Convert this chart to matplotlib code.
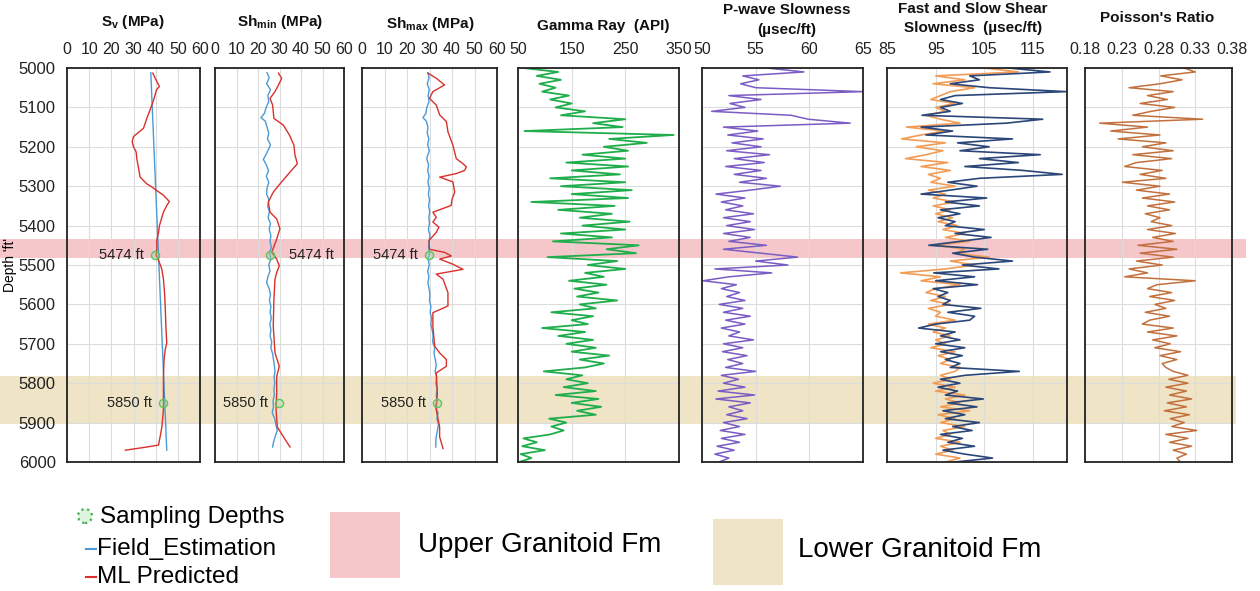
import numpy as np
import matplotlib
matplotlib.use("Agg")
import matplotlib.pyplot as plt
from matplotlib.lines import Line2D
from matplotlib.patches import Rectangle, Ellipse

plt.rcParams['font.family'] = ['Liberation Sans', 'DejaVu Sans']
plt.rcParams['mathtext.fontset'] = 'custom'
plt.rcParams['mathtext.rm'] = 'Liberation Sans'
plt.rcParams['mathtext.bf'] = 'Liberation Sans:bold'

# ---------------- data ----------------
# stress tracks (depth ft, MPa)
sv_field_depth = [5012, 5970]
sv_field = [37.8, 45.0]
sv_ml_depth = [5013, 5026, 5047, 5055, 5077, 5094, 5128, 5153, 5174, 5187, 5200, 5213, 5230,
               5255, 5277, 5294, 5302, 5311, 5323, 5339, 5349, 5366, 5383, 5400, 5417, 5438,
               5460, 5475, 5494, 5511, 5536, 5570, 5604, 5655, 5698, 5715, 5740, 5783, 5825,
               5868, 5911, 5936, 5957, 5962, 5970]
sv_ml = [38.7, 39.8, 41.7, 40.4, 39.3, 38.3, 36.0, 34.5, 30.0, 29.4, 30.0, 31.2, 31.5,
         32.3, 33.0, 36.0, 38.3, 40.5, 43.5, 46.2, 45.0, 43.5, 42.6, 41.7, 41.3, 40.5,
         40.5, 40.2, 41.7, 42.8, 43.5, 44.0, 44.3, 44.6, 45.0, 44.3, 43.8, 43.5, 43.5,
         43.5, 42.8, 42.0, 41.3, 36.0, 26.3]

shmin_field_depth = [5012, 5025, 5040, 5055, 5070, 5085, 5100, 5115, 5126, 5135, 5150, 5165,
                     5180, 5195, 5210, 5225, 5232, 5245, 5260, 5275, 5290, 5305, 5320, 5335,
                     5350, 5365, 5380, 5395, 5410, 5425, 5440, 5455, 5470, 5485, 5500, 5515,
                     5530, 5545, 5560, 5575, 5590, 5605, 5620, 5635, 5650, 5665, 5680, 5695,
                     5710, 5725, 5740, 5755, 5770, 5785, 5800, 5815, 5830, 5845, 5860, 5875,
                     5890, 5905, 5920, 5935, 5950, 5962]
shmin_field = [24.2, 25.2, 24.0, 25.8, 24.6, 25.0, 23.8, 23.0, 21.4, 23.4, 24.2, 25.0,
               24.4, 25.8, 24.6, 23.2, 22.5, 23.8, 24.9, 23.9, 25.0, 24.2, 24.0, 25.1,
               24.5, 25.3, 24.7, 25.8, 25.2, 26.0, 25.6, 26.2, 25.4, 26.0, 25.0, 25.6,
               24.6, 24.0, 25.2, 25.8, 25.3, 26.0, 25.6, 26.2, 25.5, 26.0, 25.6, 26.4,
               26.0, 26.8, 27.2, 27.6, 27.9, 27.5, 27.8, 27.4, 27.6, 27.0, 27.2, 26.6,
               27.8, 28.3, 29.0, 28.0, 27.2, 26.8]
shmin_ml_depth = [5013, 5026, 5039, 5060, 5077, 5094, 5128, 5145, 5170, 5196, 5221, 5243,
                  5264, 5289, 5315, 5340, 5366, 5383, 5408, 5434, 5468, 5485, 5502, 5519,
                  5536, 5587, 5655, 5723, 5757, 5783, 5825, 5868, 5911, 5936, 5962]
shmin_ml = [29.5, 31.0, 29.9, 27.9, 25.6, 26.8, 27.4, 31.8, 34.6, 36.7, 37.2, 38.3,
            34.9, 31.0, 27.1, 24.8, 25.6, 28.7, 30.2, 28.7, 26.4, 28.7, 29.9, 28.7,
            27.9, 27.4, 27.1, 27.9, 29.9, 28.7, 28.7, 28.4, 29.0, 31.8, 34.9]

shmax_field_depth = shmin_field_depth
shmax_field = [29.3, 29.8, 29.0, 29.9, 29.4, 29.8, 28.8, 28.4, 27.1, 28.6, 29.3, 29.0,
               29.7, 29.2, 29.9, 29.0, 28.8, 29.6, 29.2, 29.8, 29.3, 29.9, 29.5, 30.0,
               29.6, 30.1, 29.7, 30.0, 29.5, 30.2, 29.8, 29.6, 30.0, 29.4, 29.9, 29.2,
               29.7, 29.3, 29.8, 30.2, 30.0, 30.6, 30.3, 30.9, 30.6, 31.2, 31.6, 31.4,
               32.3, 32.0, 32.6, 33.0, 32.5, 33.2, 32.8, 33.4, 33.0, 33.3, 32.6, 33.8,
               33.3, 34.0, 33.5, 33.0, 32.8, 32.8]
shmax_ml_depth = [5013, 5026, 5043, 5060, 5077, 5094, 5119, 5136, 5162, 5196, 5230, 5243,
                  5251, 5260, 5268, 5277, 5289, 5315, 5332, 5349, 5366, 5379, 5391, 5404,
                  5417, 5438, 5460, 5468, 5477, 5485, 5498, 5511, 5523, 5536, 5570, 5604,
                  5621, 5655, 5706, 5723, 5740, 5757, 5774, 5825, 5868, 5911, 5936, 5966]
shmax_ml = [29.3, 33.0, 36.7, 31.5, 30.0, 33.0, 34.5, 37.5, 38.2, 40.4, 41.9, 44.9,
            46.4, 45.6, 41.9, 34.5, 40.4, 41.2, 40.1, 39.6, 31.5, 33.0, 31.5, 34.2,
            33.0, 29.8, 30.0, 36.7, 39.7, 34.5, 40.4, 44.9, 33.0, 36.0, 38.2, 38.2,
            31.5, 31.5, 32.3, 34.5, 37.5, 37.5, 33.0, 33.5, 33.0, 34.5, 34.5, 36.0]

sample_depths = [5474, 5850]
sv_samples = [39.8, 43.2]
shmin_samples = [25.6, 29.8]
shmax_samples = [29.8, 33.3]

# well logs, one reading every 10 ft from 5000 to 6000 ft
log_depth = np.arange(5000, 6001, 10)
gamma_ray = [60, 125, 85, 130, 90, 120, 95, 145, 110, 150,
             120, 175, 130, 250, 190, 245, 62, 340, 220, 290,
             210, 255, 170, 250, 140, 255, 150, 240, 110, 250,
             130, 262, 150, 255, 75, 230, 125, 225, 165, 258,
             170, 250, 130, 225, 115, 275, 215, 270, 105, 235,
             180, 250, 175, 210, 145, 215, 155, 200, 160, 235,
             165, 195, 112, 190, 150, 180, 95, 175, 125, 190,
             140, 195, 150, 220, 165, 210, 175, 98, 170, 140,
             180, 135, 195, 120, 200, 150, 205, 160, 195, 108,
             140, 112, 135, 110, 60, 85, 58, 100, 55, 75, 52]
p_slowness = [56.0, 59.5, 53.8, 55.3, 53.6, 55.0, 65.0, 52.5, 55.5, 52.6,
              54.0, 50.9, 58.3, 59.9, 63.8, 52.0, 55.2, 52.4, 55.7, 52.8,
              55.5, 52.3, 56.3, 53.0, 55.8, 52.2, 55.5, 53.0, 56.0, 53.5,
              57.3, 54.5, 51.3, 54.0, 51.8, 53.8, 52.2, 54.8, 52.0, 54.5,
              52.3, 54.9, 52.0, 54.5, 52.5, 56.0, 52.0, 55.5, 58.9, 55.0,
              58.0, 51.2, 56.5, 52.5, 50.1, 53.2, 51.8, 53.5, 52.3, 54.0,
              51.6, 53.8, 52.0, 54.5, 52.2, 54.0, 51.8, 53.5, 52.5, 54.8,
              52.0, 53.8, 51.9, 54.2, 52.4, 53.8, 52.2, 55.0, 51.8, 53.4,
              52.0, 54.0, 51.5, 54.9, 51.3, 54.5, 52.5, 53.8, 52.3, 54.2,
              52.0, 53.5, 51.7, 54.0, 51.8, 53.5, 51.4, 53.0, 51.2, 52.5, 51.6]
fast_shear = [110, 118.5, 102, 104, 98, 106, 121.8, 99, 96, 100.5,
              96, 98, 92.2, 117, 109.5, 92, 98.5, 93, 110.8, 99.5,
              106, 100, 116.5, 104, 112, 101, 113, 121, 104, 97.5,
              103.5, 98, 92, 105.5, 97, 104, 96, 100, 95.5, 99,
              97, 105, 99, 106.4, 100, 93.6, 105.7, 98.5, 103, 110.8,
              100.5, 108, 94.6, 103, 95, 103.6, 94.5, 97.5, 95.5, 98,
              96.5, 104.3, 97.5, 103, 102, 95, 91.5, 99, 96, 100,
              95, 101, 96, 100.5, 97, 100, 98, 112.2, 101, 96,
              100, 95.5, 99.5, 97, 104.8, 97.5, 103.5, 96.5, 101, 97,
              104, 98.5, 102.5, 96, 100.5, 97.5, 103, 96.5, 101, 106.7, 99]
slow_shear = [105, 112, 95, 101, 94.5, 103, 98, 96, 94, 99,
              95, 97, 93, 96, 100, 89, 97, 92, 88, 97,
              91, 96.5, 93, 88.8, 97.5, 92, 98, 93.5, 96, 94,
              99, 93.5, 97, 94.5, 99, 94.5, 98, 95, 98.5, 95.5,
              99.5, 96.5, 101, 97, 102, 95, 101, 99, 106, 98,
              103, 97, 87.8, 96, 92, 100, 95, 93, 97, 94,
              98, 93.5, 96, 95, 99, 93.5, 97, 94.5, 98, 95,
              97, 94, 99, 95.5, 98, 96, 100, 99, 96, 98,
              94.5, 99, 95, 101, 97, 100, 96, 102, 95.5, 99,
              96, 101, 96.5, 98, 95, 100, 96, 98.5, 95, 100, 97]
poisson = [0.315, 0.330, 0.283, 0.312, 0.282, 0.240, 0.300, 0.265, 0.292, 0.255,
           0.302, 0.270, 0.245, 0.340, 0.200, 0.265, 0.215, 0.282, 0.225, 0.290,
           0.258, 0.300, 0.245, 0.298, 0.250, 0.234, 0.285, 0.255, 0.290, 0.231,
           0.282, 0.250, 0.295, 0.258, 0.302, 0.265, 0.295, 0.262, 0.282, 0.270,
           0.298, 0.265, 0.303, 0.272, 0.300, 0.252, 0.305, 0.255, 0.300, 0.250,
           0.285, 0.240, 0.265, 0.234, 0.330, 0.278, 0.265, 0.298, 0.268, 0.302,
           0.275, 0.290, 0.262, 0.295, 0.268, 0.258, 0.300, 0.265, 0.305, 0.272,
           0.296, 0.275, 0.310, 0.282, 0.305, 0.285, 0.290, 0.300, 0.320, 0.294,
           0.320, 0.290, 0.318, 0.295, 0.325, 0.292, 0.318, 0.288, 0.322, 0.296,
           0.315, 0.298, 0.332, 0.290, 0.320, 0.295, 0.325, 0.300, 0.318, 0.305, 0.310]

# formation zones (top, base) in ft
upper_fm = (5435, 5483)
lower_fm = (5781, 5903)

depth_ticks = list(range(5000, 6001, 100))

# ---------------- figure ----------------
W, H = 1260, 591
fig = plt.figure(figsize=(W / 100, H / 100), dpi=100)


def box(x0, x1, ytop, ybot):
    return [x0 / W, 1 - ybot / H, (x1 - x0) / W, (ybot - ytop) / H]


TOP, BOT = 68, 462
pink = '#f5c7cb'
tan = '#efe4c6'

# formation bands run behind all tracks
bg = fig.add_axes(box(0, 1246, TOP, BOT), zorder=0)
bg.set_ylim(6000, 5000)
bg.axhspan(*upper_fm, xmin=0, xmax=1.0, color=pink, lw=0)
bg.axhspan(*lower_fm, xmin=0, xmax=1236 / 1246, color=tan, lw=0)
bg.axis('off')

tracks = [
    # x0, x1, xlim, ticks, ticklabels
    (67, 200, (0, 60), range(0, 61, 10), None),
    (215, 344, (0, 60), range(0, 61, 10), None),
    (362, 497, (0, 60), range(0, 61, 10), None),
    (518, 679, (50, 350), [50, 150, 250, 350], None),
    (702, 863, (50, 65), [50, 55, 60, 65], None),
    (887, 1067, (85, 122), [85, 95, 105, 115], None),
    (1085, 1232, (0.18, 0.38), [0.18, 0.23, 0.28, 0.33, 0.38], ['0.18', '0.23', '0.28', '0.33', '0.38']),
]
axes = []
for i, (x0, x1, xlim, xt, xtl) in enumerate(tracks):
    ax = fig.add_axes(box(x0, x1, TOP, BOT), zorder=2)
    ax.patch.set_alpha(0)
    ax.set_xlim(*xlim)
    ax.set_ylim(6000, 5000)
    ax.set_xticks(list(xt))
    if xtl:
        ax.set_xticklabels(xtl)
    ax.set_yticks(depth_ticks)
    ax.xaxis.tick_top()
    ax.tick_params(axis='x', length=0, pad=8, labelsize=11.5, colors='#222222')
    ax.tick_params(axis='y', length=0, pad=8, labelsize=12, colors='#222222')
    if i > 0:
        ax.set_yticklabels([])
    ax.grid(True, color='#dcdcdc', lw=0.8)
    ax.set_axisbelow(True)
    for s in ax.spines.values():
        s.set_color('#222222')
        s.set_linewidth(1.3)
    axes.append(ax)

axes[0].set_ylabel("Depth 'ft'", fontsize=10, labelpad=1)

red = '#d9302c'
blue = '#4b9ad6'
green = '#5cc45c'

# stress tracks
stress = [(sv_field_depth, sv_field, sv_ml_depth, sv_ml, sv_samples, ['left', 'left']),
          (shmin_field_depth, shmin_field, shmin_ml_depth, shmin_ml, shmin_samples, ['right', 'left']),
          (shmax_field_depth, shmax_field, shmax_ml_depth, shmax_ml, shmax_samples, ['left', 'left'])]
for ax, (fd, fv, md, mv, sv, sides) in zip(axes[:3], stress):
    ax.plot(fv, fd, color=blue, lw=1.0, zorder=3)
    ax.plot(mv, md, color=red, lw=1.0, zorder=4)
    ax.scatter(sv, sample_depths, s=34, facecolor=(0.6, 0.85, 0.6, 0.35),
               edgecolor=green, lw=1.0, zorder=5)
    for val, dep, side in zip(sv, sample_depths, sides):
        off = -8 if side == 'left' else 14
        ax.annotate(f'{dep} ft', (val, dep), xytext=(off, 0), textcoords='offset points',
                    ha='right' if side == 'left' else 'left', va='center',
                    fontsize=10.5, color='#222222', zorder=6)

axes[3].plot(gamma_ray, log_depth, color='#1fae4b', lw=1.3)
axes[4].plot(p_slowness, log_depth, color='#7a5cc4', lw=1.1)
axes[5].plot(slow_shear, log_depth, color='#f39c55', lw=1.2)
axes[5].plot(fast_shear, log_depth, color='#2b4678', lw=1.2)
axes[6].plot(poisson, log_depth, color='#c2703d', lw=1.1)

# track titles
title_kw = dict(ha='center', va='center', fontsize=11, fontweight='bold', color='#111111')
fig.text(133 / W, 1 - 22 / H, r'S$_\mathbf{v}$ (MPa)', **title_kw)
fig.text(280 / W, 1 - 22 / H, r'Sh$_\mathbf{min}$ (MPa)', **title_kw)
fig.text(430 / W, 1 - 24 / H, r'Sh$_\mathbf{max}$ (MPa)', **title_kw)
fig.text(603 / W, 1 - 26 / H, 'Gamma Ray  (API)', **title_kw)
fig.text(787 / W, 1 - 10 / H, 'P-wave Slowness', **title_kw)
fig.text(787 / W, 1 - 30 / H, '(µsec/ft)', **title_kw)
fig.text(973 / W, 1 - 9 / H, 'Fast and Slow Shear', **title_kw)
fig.text(973 / W, 1 - 28 / H, 'Slowness  (µsec/ft)', **title_kw)
fig.text(1157 / W, 1 - 18 / H, "Poisson's Ratio", **title_kw)

# legend
fig.add_artist(Ellipse((85 / W, 1 - 516 / H), 14 / W, 14 / H, facecolor=(0.75, 0.92, 0.75, 0.5),
                       edgecolor='#3fb04f', lw=1.6, ls=':', transform=fig.transFigure))
fig.text(100 / W, 1 - 517 / H, 'Sampling Depths', fontsize=17.5, va='center', ha='left')
fig.add_artist(Line2D([86 / W, 96 / W], [1 - 549 / H] * 2, color=blue, lw=1.5,
                      transform=fig.transFigure))
fig.text(97 / W, 1 - 549 / H, 'Field_Estimation', fontsize=17.5, va='center', ha='left')
fig.add_artist(Line2D([86 / W, 96 / W], [1 - 577 / H] * 2, color=red, lw=1.5,
                      transform=fig.transFigure))
fig.text(97 / W, 1 - 577 / H, 'ML Predicted', fontsize=17.5, va='center', ha='left')

fig.add_artist(Rectangle((330 / W, 1 - 578 / H), 70 / W, 66 / H, color=pink,
                         transform=fig.transFigure, lw=0))
fig.text(418 / W, 1 - 545 / H, 'Upper Granitoid Fm', fontsize=20, va='center', ha='left')
fig.add_artist(Rectangle((713 / W, 1 - 585 / H), 70 / W, 66 / H, color=tan,
                         transform=fig.transFigure, lw=0))
fig.text(798 / W, 1 - 550 / H, 'Lower Granitoid Fm', fontsize=20, va='center', ha='left')

fig.savefig('out.png', dpi=100)
